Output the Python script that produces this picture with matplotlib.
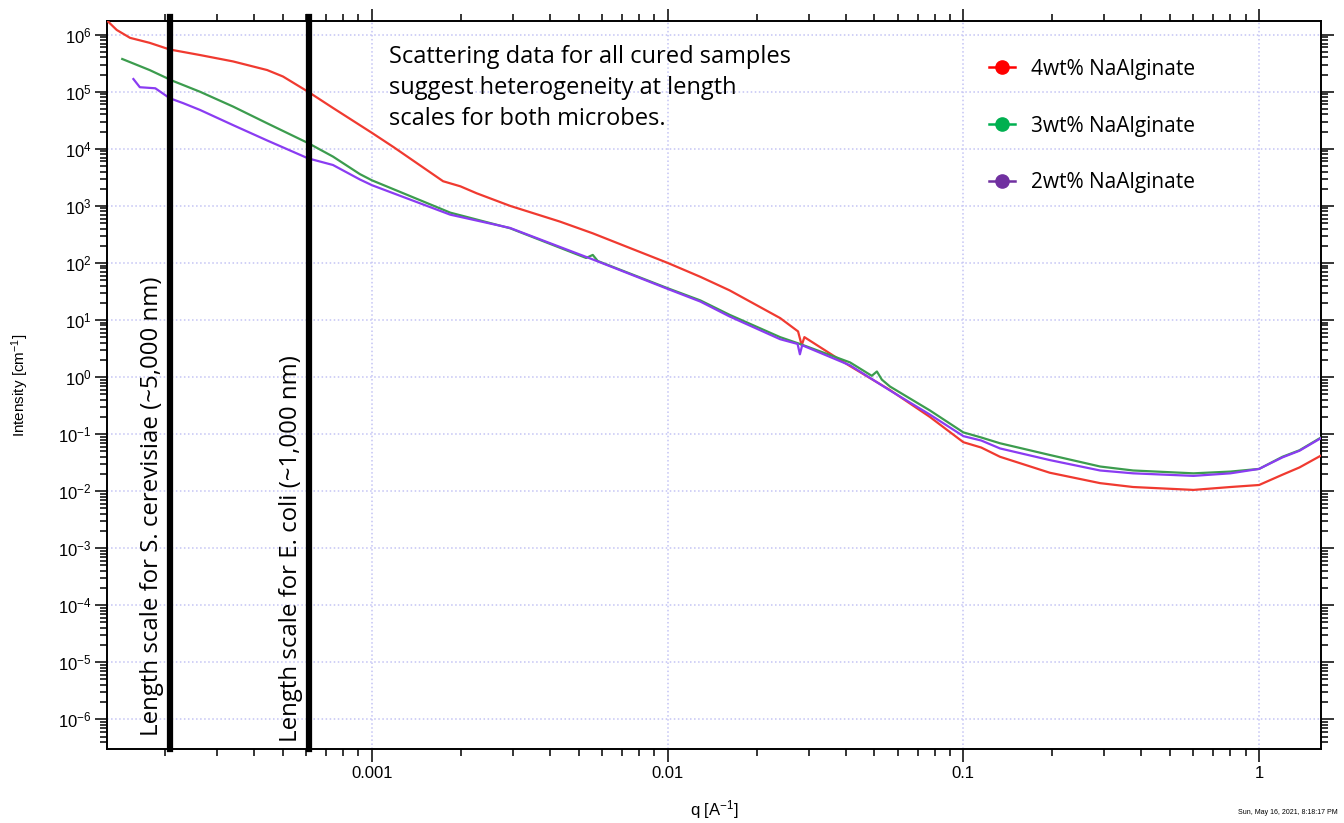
import numpy as np
import matplotlib
matplotlib.use("Agg")
import matplotlib.pyplot as plt
from matplotlib.ticker import LogLocator, FixedLocator, NullFormatter, FuncFormatter
from matplotlib.lines import Line2D

plt.rcParams['font.family'] = ['Liberation Sans', 'DejaVu Sans']
plt.rcParams['mathtext.default'] = 'regular'
plt.rcParams['axes.unicode_minus'] = False

# --- data (q in 1/A, intensity in 1/cm) ---
q_4wt = [1.27e-4, 1.37e-4, 1.52e-4, 1.77e-4, 2.07e-4, 2.62e-4, 3.39e-4, 4.42e-4,
         5.0e-4, 6.08e-4, 7.38e-4, 1.0e-3, 1.18e-3, 1.74e-3, 1.99e-3, 2.26e-3,
         2.93e-3, 4.32e-3, 5.58e-3, 7.46e-3, 1.0e-2, 1.29e-2, 1.62e-2, 2.4e-2,
         2.76e-2, 2.84e-2, 2.9e-2, 3.62e-2, 4.14e-2, 5.65e-2, 7.7e-2, 0.1, 0.115,
         0.133, 0.196, 0.29, 0.375, 0.6, 0.8, 1.0, 1.2, 1.37, 1.62]
I_4wt = [1.77e6, 1.21e6, 8.8e5, 7.2e5, 5.5e5, 4.4e5, 3.4e5, 2.4e5,
         1.85e5, 1.0e5, 5.2e4, 1.9e4, 1.08e4, 2.7e3, 2.2e3, 1.66e3,
         1.0e3, 530, 330, 182, 100, 57, 33, 10.8,
         6.3, 3.6, 5.0, 2.4, 1.55, 0.59, 0.2, 0.072, 0.058,
         0.04, 0.021, 0.0138, 0.0118, 0.0105, 0.0118, 0.0128, 0.0194, 0.026, 0.042]

q_3wt = [1.43e-4, 1.77e-4, 2.12e-4, 2.62e-4, 3.39e-4, 4.42e-4, 6.08e-4, 7.38e-4,
         9.1e-4, 1.0e-3, 1.84e-3, 2.93e-3, 5.3e-3, 5.58e-3, 5.8e-3, 1.0e-2,
         1.29e-2, 1.62e-2, 2.4e-2, 2.8e-2, 4.14e-2, 4.9e-2, 5.1e-2, 5.3e-2,
         5.65e-2, 7.7e-2, 0.1, 0.115, 0.133, 0.196, 0.29, 0.375, 0.6, 0.8, 1.0,
         1.2, 1.37, 1.62]
I_3wt = [3.75e5, 2.4e5, 1.55e5, 1.0e5, 5.5e4, 2.8e4, 1.26e4, 7.3e3,
         3.6e3, 2.8e3, 760, 405, 122, 138, 108, 36,
         22, 12.3, 5.0, 3.8, 1.8, 1.05, 1.25, 0.9,
         0.68, 0.26, 0.107, 0.087, 0.069, 0.043, 0.027, 0.023, 0.0205, 0.022, 0.0245,
         0.04, 0.052, 0.087]

q_2wt = [1.56e-4, 1.64e-4, 1.85e-4, 2.07e-4, 2.3e-4, 2.62e-4, 3.39e-4, 4.42e-4,
         6.08e-4, 7.38e-4, 9.1e-4, 1.0e-3, 1.84e-3, 2.93e-3, 5.58e-3, 1.0e-2,
         1.29e-2, 1.62e-2, 2.4e-2, 2.75e-2, 2.8e-2, 2.85e-2, 4.14e-2, 5.65e-2,
         7.7e-2, 0.1, 0.115, 0.133, 0.196, 0.29, 0.375, 0.6, 0.8, 1.0, 1.2, 1.37, 1.62]
I_2wt = [1.67e5, 1.2e5, 1.15e5, 7.7e4, 6.3e4, 4.8e4, 2.6e4, 1.4e4,
         6.8e3, 5.2e3, 2.9e3, 2.3e3, 700, 410, 115, 35,
         21, 11.5, 4.6, 3.8, 2.5, 3.6, 1.6, 0.58,
         0.22, 0.092, 0.077, 0.056, 0.035, 0.023, 0.0205, 0.0185, 0.0205, 0.0245, 0.039, 0.051, 0.085]

series_labels = ['4wt% NaAlginate', '3wt% NaAlginate', '2wt% NaAlginate']
line_colors = ['#f03a30', '#3c9c4e', '#8a3cf2']
legend_colors = ['#ff0000', '#00b050', '#7030a0']

# q positions of the microbe length scales
length_scale_q = [2.07e-4, 6.1e-4]
length_scale_text = ['Length scale for S. cerevisiae (~5,000 nm)',
                     'Length scale for E. coli (~1,000 nm)']

x_major = [1e-3, 1e-2, 1e-1, 1]
y_major = [10.0**k for k in range(-6, 7)]

fig = plt.figure(figsize=(13.44, 8.23), dpi=100)
ax = fig.add_axes([107/1344, 1-749/823, (1321-107)/1344, (749-21)/823])

for q, I, c in zip([q_4wt, q_3wt, q_2wt], [I_4wt, I_3wt, I_2wt], line_colors):
    ax.plot(q, I, color=c, lw=1.6, zorder=3)

ax.set_xscale('log')
ax.set_yscale('log')
ax.set_xlim(1.27e-4, 1.62)
ax.set_ylim(10**-6.52, 10**6.24)

ax.xaxis.set_major_locator(FixedLocator(x_major))
ax.yaxis.set_major_locator(FixedLocator(y_major))
ax.xaxis.set_minor_locator(LogLocator(base=10, subs=np.arange(2, 10), numticks=100))
ax.yaxis.set_minor_locator(LogLocator(base=10, subs=np.arange(2, 10), numticks=100))
ax.xaxis.set_minor_formatter(NullFormatter())
ax.yaxis.set_minor_formatter(NullFormatter())
ax.xaxis.set_major_formatter(FuncFormatter(lambda v, p: '%g' % v))
ax.yaxis.set_major_formatter(FuncFormatter(lambda v, p: r'$10^{%d}$' % round(np.log10(v))))

ax.tick_params(which='both', direction='out', top=True, right=True, width=1.1,
               labelsize=12, colors='black')
ax.tick_params(which='major', length=9)
ax.tick_params(which='minor', length=5)
ax.tick_params(axis='y', which='major', pad=2)
for s in ax.spines.values():
    s.set_linewidth(1.4)

ax.grid(True, which='major', color='#c4c4f4', linestyle=':', linewidth=1.1, zorder=0)

for qv, txt, ybot in zip(length_scale_q, length_scale_text, [0.018, 0.01]):
    ax.axvline(qv, ymin=0, ymax=1.006, color='black', lw=4.5, zorder=4, clip_on=False)
    ax.text(qv * 10**(-0.06), ybot, txt, transform=ax.get_xaxis_transform(),
            rotation=90, ha='center', va='bottom', fontsize=17.3, family='Open Sans',
            zorder=5)

ax.set_ylabel('Intensity [cm$^{-1}$]', fontsize=11)
ax.yaxis.set_label_coords(-0.063, 0.5)
ax.set_xlabel('q [A$^{-1}$]', fontsize=12)
ax.xaxis.set_label_coords(0.5, -0.068)

fig.text(389/1344, 1-45/823,
         'Scattering data for all cured samples\nsuggest heterogeneity at length\nscales for both microbes.',
         ha='left', va='top', fontsize=17, family='Open Sans', linespacing=1.4)

handles = [Line2D([], [], color=c, marker='o', markersize=9.5, lw=1.8) for c in legend_colors]
leg = ax.legend(handles, series_labels, loc='upper left',
                bbox_to_anchor=(970/1344, 1-40/823), bbox_transform=fig.transFigure,
                frameon=False, prop={'family': 'Open Sans', 'size': 15},
                handlelength=1.25, handletextpad=0.8, labelspacing=1.72)

fig.text(1338/1344, 1-812/823, 'Sun, May 16, 2021, 8:18:17 PM',
         ha='right', va='center', fontsize=5)

fig.savefig('out.png', dpi=100, facecolor='white')
